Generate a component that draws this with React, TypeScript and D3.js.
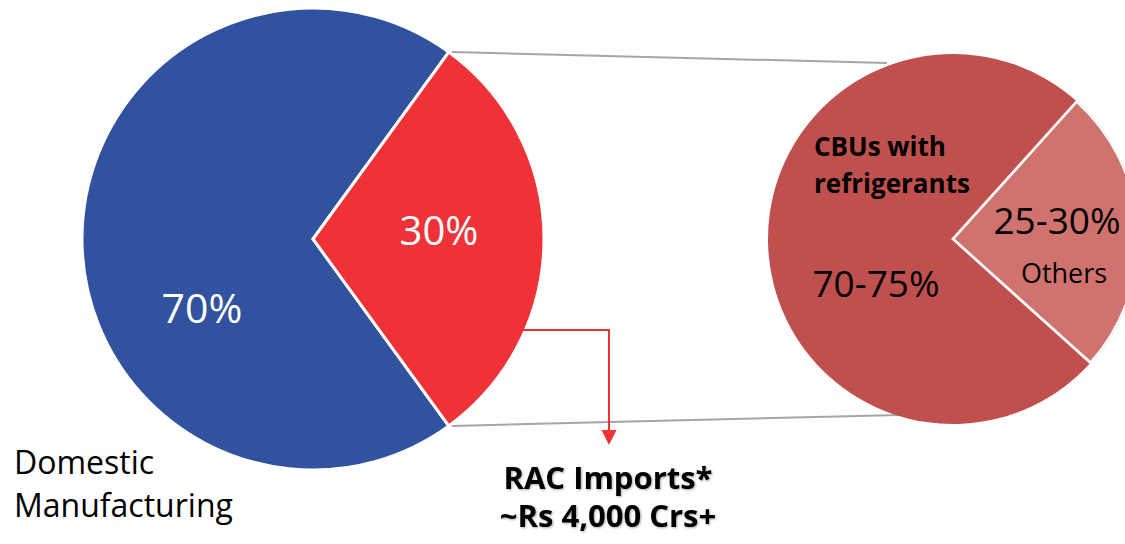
import React from "react";
import * as d3 from "d3";

const mainLabels = ["Domestic Manufacturing", "RAC Imports"];
const mainValues = [70, 30];
const mainText = ["70%", "30%"];
const importLabels = ["CBUs with refrigerants", "Others"];
const importValues = [75, 25];
const importText = ["70-75%", "25-30%"];

const W = 1125;
const H = 544;
const deg = Math.PI / 180;

export default function App() {
  const main = { cx: 313, cy: 239, r: 231 };
  const sub = { cx: 953, cy: 239, r: 185 };

  const mainPie = d3
    .pie<number>()
    .sort(null)
    .startAngle(144 * deg)
    .endAngle(144 * deg + 2 * Math.PI)(mainValues);
  const subPie = d3
    .pie<number>()
    .sort(null)
    .startAngle(132 * deg)
    .endAngle(132 * deg + 2 * Math.PI)(importValues);

  const mainArc = d3.arc<d3.PieArcDatum<number>>().innerRadius(0).outerRadius(main.r);
  const subArc = d3.arc<d3.PieArcDatum<number>>().innerRadius(0).outerRadius(sub.r);

  const mainColors = ["#30529F", "#EE3237"];
  const subColors = ["#C0504D", "#D0736F"];

  const font = "'Open Sans', Calibri, sans-serif";

  const grey = "#A6A6A6";
  const red = "#EE3237";

  const a0 = mainPie[1].startAngle;
  const a1 = mainPie[1].endAngle;
  const p0 = [main.cx + main.r * Math.sin(a0), main.cy - main.r * Math.cos(a0)];
  const p1 = [main.cx + main.r * Math.sin(a1), main.cy - main.r * Math.cos(a1)];

  return (
    <svg
      width={W}
      height={H}
      style={{ position: "absolute", left: 0, top: 0, background: "#fff" }}
    >
      <defs>
        <filter id="glow" x="-10%" y="-20%" width="120%" height="140%">
          <feGaussianBlur in="SourceAlpha" stdDeviation="1.2" result="b" />
          <feOffset dx="1" dy="1" in="b" result="o" />
          <feComponentTransfer in="o" result="o2">
            <feFuncA type="linear" slope="0.35" />
          </feComponentTransfer>
          <feMerge>
            <feMergeNode in="o2" />
            <feMergeNode in="SourceGraphic" />
          </feMerge>
        </filter>
      </defs>

      {/* connector lines */}
      <line x1={p0[0] + 3} y1={p0[1]} x2={887} y2={63} stroke={grey} strokeWidth={2} />
      <line x1={p1[0] + 3} y1={p1[1]} x2={900} y2={415} stroke={grey} strokeWidth={2} />

      {/* main pie */}
      <g transform={`translate(${main.cx},${main.cy})`}>
        {mainPie.map((d, i) => (
          <path
            key={mainLabels[i]}
            d={mainArc(d) || ""}
            fill={mainColors[i]}
            stroke="#fff"
            strokeWidth={3}
            strokeLinejoin="miter"
          />
        ))}
      </g>

      {/* sub pie */}
      <g transform={`translate(${sub.cx},${sub.cy})`}>
        {subPie.map((d, i) => (
          <path
            key={importLabels[i]}
            d={subArc(d) || ""}
            fill={subColors[i]}
            stroke="#fff"
            strokeWidth={i === 1 ? 2.5 : 0}
          />
        ))}
        <path d={subArc(subPie[1]) || ""} fill="none" stroke="#F5F5F5" strokeWidth={2.5} />
      </g>

      {/* arrow */}
      <polyline
        points={`523,330 609,330 609,432`}
        fill="none"
        stroke={red}
        strokeWidth={2}
      />
      <polygon points="601.5,430 616.5,430 609,445" fill={red} />

      {/* main labels */}
      <text x={202} y={323} fill="#fff" fontFamily={font} fontSize={41} textAnchor="middle">
        {mainText[0]}
      </text>
      <text x={439} y={245} fill="#fff" fontFamily={font} fontSize={40} textAnchor="middle">
        {mainText[1]}
      </text>

      <text x={14} y={474} fill="#000" fontFamily={font} fontSize={32}>
        Domestic
      </text>
      <text x={14} y={517} fill="#000" fontFamily={font} fontSize={32}>
        Manufacturing
      </text>

      <g filter="url(#glow)">
        <text x={608} y={489} fill="#000" fontFamily={font} fontWeight="bold" fontSize={31} textAnchor="middle">
          {mainLabels[1]}*
        </text>
        <text x={608} y={527} fill="#000" fontFamily={font} fontWeight="bold" fontSize={31} textAnchor="middle">
          ~Rs 4,000 Crs+
        </text>
      </g>

      {/* sub labels */}
      <text x={814} y={156} fill="#000" fontFamily={font} fontWeight="bold" fontSize={26}>
        CBUs with
      </text>
      <text x={814} y={193} fill="#000" fontFamily={font} fontWeight="bold" fontSize={26}>
        refrigerants
      </text>
      <text x={876} y={297} fill="#000" fontFamily={font} fontSize={37} textAnchor="middle">
        {importText[0]}
      </text>
      <text x={1057} y={234} fill="#000" fontFamily={font} fontSize={37} textAnchor="middle">
        {importText[1]}
      </text>
      <text x={1064} y={283} fill="#000" fontFamily={font} fontSize={27} textAnchor="middle">
        {importLabels[1]}
      </text>
    </svg>
  );
}
